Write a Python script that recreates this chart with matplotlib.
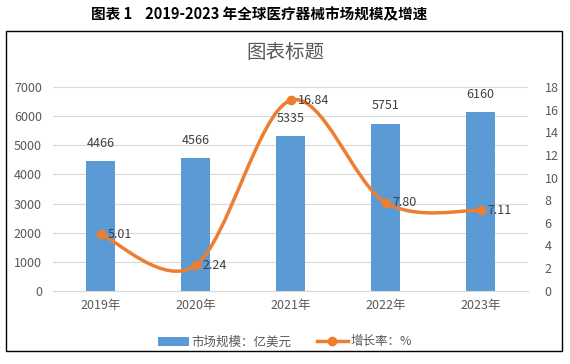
import numpy as np
import matplotlib
matplotlib.use('Agg')
import matplotlib.pyplot as plt
from matplotlib.path import Path
from matplotlib.patches import PathPatch, Rectangle, Patch
from matplotlib.lines import Line2D

plt.rcParams['font.family'] = ['Noto Sans CJK SC', 'DejaVu Sans']

years = ['2019年', '2020年', '2021年', '2022年', '2023年']
market = [4466, 4566, 5335, 5751, 6160]
growth = [5.01, 2.24, 16.84, 7.80, 7.11]
growth_labels = ['5.01', '2.24', '16.84', '7.80', '7.11']

bar_color = '#5B9BD5'
line_color = '#ED7D31'
text_gray = '#595959'
grid_gray = '#D9D9D9'

fig = plt.figure(figsize=(5.7, 3.64), dpi=100)

# outer title
fig.text(0.455, 1 - 14 / 364, '图表 1    2019-2023 年全球医疗器械市场规模及增速',
         ha='center', va='center', fontsize=10.5, fontweight='bold', color='black')

# chart frame
fig.patches.append(Rectangle((6 / 570, 1 - 351 / 364), 556 / 570, 320 / 364,
                             transform=fig.transFigure, fill=False,
                             edgecolor='black', linewidth=1.0))

fig.text(0.5, 1 - 52 / 364, '图表标题', ha='center', va='center',
         fontsize=14, color=text_gray)

ax = fig.add_axes([53 / 570, 1 - 290.7 / 364, 475 / 570, 203.4 / 364])
x = np.arange(len(years))
ax.bar(x, market, width=0.31, color=bar_color, zorder=2)
ax.set_xlim(-0.5, len(years) - 0.5)
ax.set_ylim(0, 7000)
ax.set_yticks(np.arange(0, 7001, 1000))
ax.set_xticks(x)
ax.set_xticklabels(years)
ax.grid(axis='y', color=grid_gray, linewidth=0.8, zorder=0)
for s in ['top', 'right', 'left']:
    ax.spines[s].set_visible(False)
ax.spines['bottom'].set_color(grid_gray)
ax.tick_params(axis='both', length=0, labelsize=9, colors=text_gray)
ax.tick_params(axis='y', pad=8)
ax.tick_params(axis='x', pad=6)
for xi, v in zip(x, market):
    ax.annotate(str(v), (xi, v), xytext=(0, 8), textcoords='offset points',
                ha='center', va='bottom', fontsize=9, color='#404040')

ax2 = ax.twinx()
ax2.set_ylim(0, 18)
ax2.set_yticks(np.arange(0, 19, 2))
for s in ['top', 'right', 'left', 'bottom']:
    ax2.spines[s].set_visible(False)
ax2.tick_params(axis='y', length=0, labelsize=9, colors=text_gray, pad=12)

# smoothed line (Catmull-Rom style bezier, like Excel's smooth line)
pts = np.column_stack([x, growth]).astype(float)
verts = [pts[0]]
codes = [Path.MOVETO]
n = len(pts)
for i in range(n - 1):
    p0 = pts[i - 1] if i > 0 else pts[i]
    p1 = pts[i]
    p2 = pts[i + 1]
    p3 = pts[i + 2] if i + 2 < n else pts[i + 1]
    c1 = p1 + (p2 - p0) / 6
    c2 = p2 - (p3 - p1) / 6
    verts += [c1, c2, p2]
    codes += [Path.CURVE4] * 3
ax2.add_patch(PathPatch(Path(verts, codes), facecolor='none',
                        edgecolor=line_color, linewidth=2.5, zorder=3))
ax2.plot(x, growth, 'o', color=line_color, markersize=6, zorder=4)
for xi, v, lab in zip(x, growth, growth_labels):
    ax2.annotate(lab, (xi, v), xytext=(5, 0), textcoords='offset points',
                 ha='left', va='center', fontsize=9, color='#404040')

handles = [Patch(facecolor=bar_color, edgecolor='none'),
           Line2D([0], [0], color=line_color, linewidth=2.5, marker='o', markersize=6)]
fig.legend(handles, ['市场规模：亿美元', '增长率：%'], loc='center',
           bbox_to_anchor=(0.5, 1 - 342 / 364), ncol=2, frameon=False,
           fontsize=9, labelcolor=text_gray, handlelength=2.5,
           handletextpad=0.2, columnspacing=2.0)

fig.savefig('out.png', dpi=100)
